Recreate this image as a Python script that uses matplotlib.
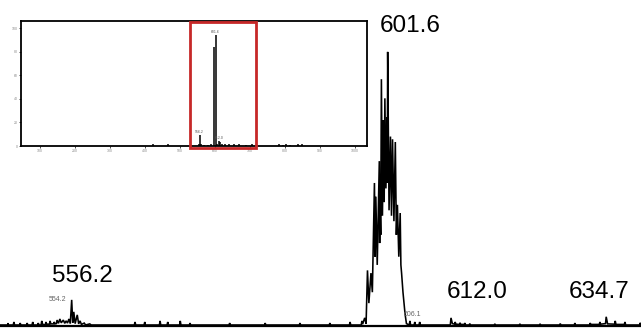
import matplotlib
matplotlib.use("Agg")
import matplotlib.pyplot as plt
from matplotlib.patches import Rectangle

plt.rcParams['font.family'] = ['Liberation Sans', 'DejaVu Sans']

# ---------------- main (zoomed) spectrum: profile points ----------------
main_mz = [545.9, 547.0, 547.05, 547.1, 547.8, 547.9, 548.0, 548.7, 548.8, 548.9,
           549.7, 549.8, 549.9, 550.5, 550.6, 550.7, 551.3, 551.4, 551.5, 551.8,
           551.9, 552.0, 552.4, 552.5, 552.6, 553.0, 553.1, 553.2, 553.6, 553.7,
           553.8, 554.0, 554.1, 554.3, 554.5, 554.7, 555.0, 555.2, 555.4, 555.6,
           555.8, 556.0, 556.2, 556.35, 556.5, 556.7, 557.0, 557.2, 557.4, 557.6,
           558.0, 558.2, 558.8, 559.0,
           565.2, 565.3, 565.4, 566.6, 566.7, 566.8, 568.8, 568.9, 569.0, 569.9,
           570.0, 570.1, 571.7, 571.8, 571.9, 573.1, 573.2, 573.3, 578.8, 578.9,
           579.0, 583.9, 584.0, 584.1, 588.9, 589.0, 589.1, 593.2, 593.3, 593.4,
           596.1, 596.2, 596.3, 597.8, 597.9, 598.0, 598.3, 598.5,
           598.7, 598.9, 599.2, 599.4, 599.7, 599.8, 599.9, 600.1, 600.4, 600.45,
           600.5, 600.6, 600.7, 600.85, 601.0, 601.1, 601.2, 601.35, 601.5, 601.55,
           601.6, 601.8, 602.0, 602.15, 602.3, 602.5, 602.7, 602.85, 603.0, 603.2,
           603.4, 603.5, 603.6, 603.8, 604.1, 604.3,
           604.7, 604.8, 604.9, 605.4, 605.5, 605.6, 606.1, 606.2, 606.3,
           610.6, 610.7, 610.9, 611.2, 611.3, 611.4, 611.9, 612.0, 612.1, 612.6,
           612.7, 612.8, 613.3, 613.4, 613.5, 616.9, 617.0, 617.1, 620.5, 620.6,
           620.7, 623.4, 623.5, 623.6, 626.3, 626.4, 626.5, 628.4, 628.5, 628.6,
           630.6, 630.7, 630.8, 632.0, 632.1, 632.2, 632.9, 633.0, 633.2, 634.2,
           634.3, 634.4, 635.6, 635.7, 635.8, 637.8, 637.9, 638.0]
main_int = [0, 0, 0.7, 0, 0, 1.1, 0, 0, 0.7, 0,
            0, 0.7, 0, 0, 1.1, 0, 0, 0.7, 0, 0,
            1.5, 0.3, 0, 1.1, 0.3, 0.3, 1.5, 0.4, 0.4, 1.1,
            0.4, 0.5, 1.8, 0.6, 2.2, 0.8, 1.8, 0.6, 1.5, 0.7,
            2.2, 0.5, 9.2, 0.8, 4.8, 0.5, 3.7, 0.4, 1.5, 0.2,
            0.7, 0, 0.4, 0,
            0, 1.1, 0, 0, 1.1, 0, 0, 1.5, 0, 0,
            1.1, 0, 0, 1.5, 0, 0, 0.7, 0, 0, 0.7,
            0, 0, 0.7, 0, 0, 0.7, 0, 0, 0.7, 0,
            0, 1.1, 0, 0, 1.5, 0.3, 2.6, 0.5,
            20, 8, 19, 12, 52, 25, 47, 22, 60, 30,
            46, 33, 90, 40, 75, 45, 83, 50, 76, 52,
            100, 42, 69, 40, 68, 38, 67, 33, 44, 25,
            41, 22, 19, 12, 4, 0.5,
            0, 1.5, 0, 0, 1.1, 0, 0, 1.1, 0,
            0, 2.6, 0.5, 0.3, 1.1, 0.3, 0.2, 0.8, 0.2, 0.2,
            0.7, 0, 0, 0.5, 0, 0, 0.4, 0, 0, 0.4,
            0, 0, 0.4, 0, 0, 0.5, 0, 0, 0.7, 0,
            0, 0.7, 0.2, 0.2, 1.1, 0.3, 0.5, 3.0, 0.4, 0.3,
            1.5, 0.2, 0.2, 1.1, 0, 0, 0.8, 0]

main_labels = ["556.2", "601.6", "612.0", "634.7"]
minor_labels = ["554.2", "606.1"]

# ---------------- inset (full range) stick spectrum ----------------
inset_mz = [423, 466, 554.2, 556.2, 560, 570, 580, 590, 597.0, 601.6,
            606, 612.0, 615, 620, 630, 640, 655, 670, 690, 705,
            783, 794, 803, 814, 837, 849]
inset_int = [1.5, 1.5, 2.0, 9.0, 1.5, 1.0, 1.0, 1.5, 84, 94,
             2.0, 4.5, 3.0, 2.0, 1.5, 2.0, 1.5, 1.5, 1.0, 1.5,
             1.5, 1.0, 1.5, 1.0, 1.5, 1.5]
inset_xticks = [100, 200, 300, 400, 500, 600, 700, 800, 900, 1000]
inset_yticks = [0, 20, 40, 60, 80, 100]
inset_labels = ["556.2", "601.6", "612.0"]

fig = plt.figure(figsize=(6.41, 3.29), dpi=100)
ax = fig.add_axes([0, 0, 1, 1])
ax.set_xlim(545.9, 638.0)
ax.set_ylim(-1.47, 119.0)
ax.axis('off')
ax.plot(main_mz, main_int, color='black', lw=1.15, solid_joinstyle='miter')
ax.axhline(-0.4, color='black', lw=1.6)

big = dict(fontsize=17.5, color='black', ha='center', va='baseline')
ax.text(557.7, 15.8, main_labels[0], **big)
ax.text(604.8, 107.1, main_labels[1], **big)
ax.text(614.4, 9.9, main_labels[2], **big)
ax.text(632.0, 9.9, main_labels[3], **big)
small = dict(fontsize=5, color='#666666', ha='center', va='baseline')
ax.text(554.2, 8.8, minor_labels[0], **small)
ax.text(605.2, 3.3, minor_labels[1], **small)

# inset
ins = fig.add_axes([21 / 641, (329 - 146) / 329, 346 / 641, 125 / 329])
ins.set_facecolor('white')
ins.set_xlim(45, 1035)
ins.set_ylim(0, 106)
ins.vlines(inset_mz, 0, inset_int, color='black', lw=1.1)
for s in ins.spines.values():
    s.set_linewidth(1.3)
    s.set_color('black')
ins.set_xticks(inset_xticks)
ins.set_yticks(inset_yticks)
ins.set_xticklabels([str(t) for t in inset_xticks], fontsize=2.5, color='#888888')
ins.set_yticklabels([str(t) for t in inset_yticks], fontsize=2.5, color='#888888')
ins.tick_params(length=1.2, width=0.5, pad=1)
tiny = dict(fontsize=2.5, color='#555555', ha='center', va='bottom')
ins.text(556.2, 10, inset_labels[0], **tiny)
ins.text(601.6, 95, inset_labels[1], **tiny)
ins.text(612.0, 5.5, inset_labels[2], **tiny)
ins.add_patch(Rectangle((528, -1.7), 189, 106.5, fill=False, edgecolor='#c62828',
                        lw=2.0, clip_on=False, zorder=5))

fig.savefig('out.png', dpi=100)
